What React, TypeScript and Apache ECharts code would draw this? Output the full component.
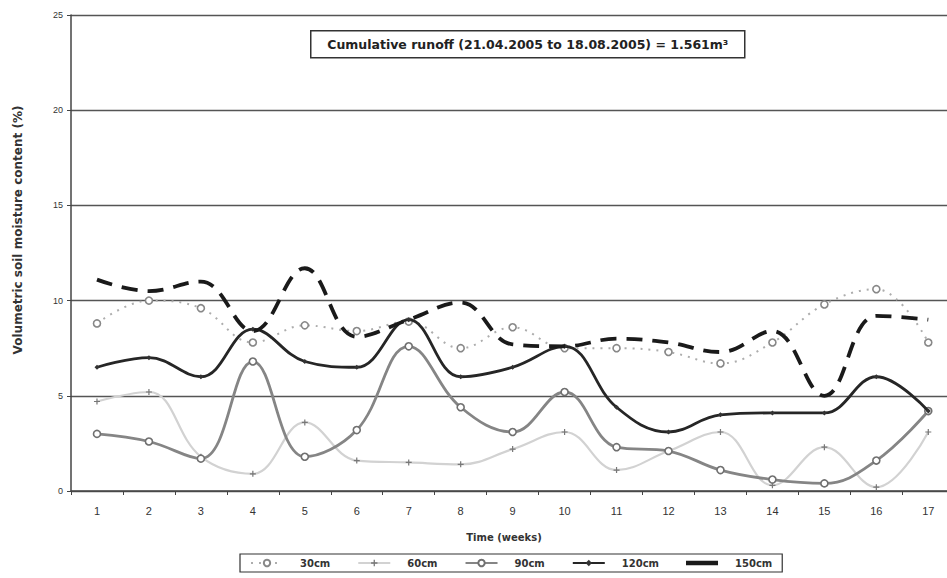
import React, { useEffect, useRef } from "react";
import * as echarts from "echarts";

const weeks = [1, 2, 3, 4, 5, 6, 7, 8, 9, 10, 11, 12, 13, 14, 15, 16, 17];
const weekTicks = [0.5, 1.5, 2.5, 3.5, 4.5, 5.5, 6.5, 7.5, 8.5, 9.5, 10.5, 11.5, 12.5, 13.5, 14.5, 15.5, 16.5];
const d30 = [8.8, 10.0, 9.6, 7.8, 8.7, 8.4, 8.9, 7.5, 8.6, 7.5, 7.5, 7.3, 6.7, 7.8, 9.8, 10.6, 7.8];
const d60 = [4.7, 5.2, 1.8, 0.9, 3.6, 1.6, 1.5, 1.4, 2.2, 3.1, 1.1, 2.1, 3.1, 0.3, 2.3, 0.2, 3.1];
const d90 = [3.0, 2.6, 1.7, 6.8, 1.8, 3.2, 7.6, 4.4, 3.1, 5.2, 2.3, 2.1, 1.1, 0.6, 0.4, 1.6, 4.2];
const d120 = [6.5, 7.0, 6.0, 8.5, 6.8, 6.5, 9.0, 6.0, 6.5, 7.6, 4.4, 3.1, 4.0, 4.1, 4.1, 6.0, 4.2];
const d150 = [11.1, 10.5, 11.0, 8.4, 11.7, 8.1, 9.0, 9.9, 7.7, 7.6, 8.0, 7.8, 7.3, 8.4, 5.0, 9.2, 9.0];
const seriesNames = ["30cm", "60cm", "90cm", "120cm", "150cm"];
const annotation = "Cumulative runoff (21.04.2005 to 18.08.2005) = 1.561m³";
const yTitle = "Volumetric soil moisture content (%)";
const xTitle = "Time (weeks)";

const FONT = "'Liberation Sans', Arial, sans-serif";
const WIDE = "'DejaVu Sans', Verdana, sans-serif";
const PLUS = "path://M4,0h2v10h-2z M0,4h10v2h-10z";
const BAR = "path://M0,0h30v4h-30z";

const pairs = (vals: number[]) => vals.map((v, i) => [weeks[i], v]);

export default function App() {
  const ref = useRef<HTMLDivElement>(null);
  useEffect(() => {
    if (!ref.current) return;
    const chart = echarts.init(ref.current, null, { renderer: "svg" });
    chart.setOption({
      animation: false,
      backgroundColor: "#ffffff",
      textStyle: { fontFamily: FONT },
      grid: { left: 71, top: 15, right: 0, bottom: 87, containLabel: false },
      xAxis: {
        type: "value",
        min: 0.5,
        max: 17.36,
        axisLine: { onZero: false, lineStyle: { color: "#444", width: 1.5 } },
        axisTick: { show: true, length: 4, lineStyle: { color: "#444" }, customValues: weekTicks },
        axisLabel: { fontSize: 11, color: "#333", margin: 14, fontFamily: FONT, customValues: weeks },
        splitLine: { show: false },
      },
      yAxis: {
        type: "value",
        min: 0,
        max: 25,
        interval: 5,
        axisLine: { show: true, lineStyle: { color: "#444", width: 1.5 } },
        axisTick: { show: true, length: 4, lineStyle: { color: "#444" } },
        axisLabel: { fontSize: 9, color: "#333", margin: 8, fontFamily: FONT },
        splitLine: { show: true, lineStyle: { color: "#555", width: 1.3 } },
      },
      legend: {
        bottom: 6,
        left: 240,
        data: seriesNames.map((n) => (n === "150cm" ? { name: n, icon: BAR } : { name: n })),
        itemWidth: 32,
        itemHeight: 8,
        itemGap: 27,
        padding: [4, 10, 4, 10],
        borderColor: "#333",
        borderWidth: 1.2,
        textStyle: { fontSize: 10, fontWeight: "bold", color: "#333", fontFamily: WIDE, padding: [0, 0, 0, 12] },
      },
      graphic: [
        {
          type: "text",
          x: 18,
          y: 230,
          rotation: Math.PI / 2,
          style: {
            text: yTitle,
            fill: "#333",
            fontSize: 12,
            fontWeight: "bold",
            fontFamily: WIDE,
            align: "center",
            verticalAlign: "middle",
          },
        },
        {
          type: "text",
          x: 504,
          y: 537,
          style: {
            text: xTitle,
            fill: "#333",
            fontSize: 10,
            fontWeight: "bold",
            fontFamily: WIDE,
            align: "center",
            verticalAlign: "middle",
          },
        },
        {
          type: "group",
          left: 310,
          top: 30,
          children: [
            {
              type: "rect",
              shape: { x: 0, y: 0, width: 434, height: 27 },
              style: { fill: "#fff", stroke: "#333", lineWidth: 1.5 },
            },
            {
              type: "text",
              x: 217,
              y: 13.5,
              style: {
                text: annotation,
                fill: "#222",
                fontSize: 12.5,
                fontWeight: "bold",
                fontFamily: WIDE,
                align: "center",
                verticalAlign: "middle",
              },
            },
          ],
        },
      ],
      series: [
        {
          name: "30cm",
          type: "line",
          data: pairs(d30),
          smooth: 0.4,
          symbol: "circle",
          symbolSize: 7,
          lineStyle: { color: "#adadad", width: 2, type: [2, 6] },
          itemStyle: { color: "#fff", borderColor: "#888", borderWidth: 1.6 },
          z: 2,
        },
        {
          name: "60cm",
          type: "line",
          data: pairs(d60),
          smooth: 0.4,
          symbol: PLUS,
          symbolSize: 6,
          lineStyle: { color: "#d2d2d2", width: 2.2 },
          itemStyle: { color: "#777" },
          z: 2,
        },
        {
          name: "90cm",
          type: "line",
          data: pairs(d90),
          smooth: 0.4,
          symbol: "circle",
          symbolSize: 7,
          lineStyle: { color: "#858585", width: 2.8 },
          itemStyle: { color: "#fff", borderColor: "#707070", borderWidth: 1.6 },
          z: 3,
        },
        {
          name: "120cm",
          type: "line",
          data: pairs(d120),
          smooth: 0.4,
          symbol: "diamond",
          symbolSize: 5,
          lineStyle: { color: "#262626", width: 2.8 },
          itemStyle: { color: "#333" },
          z: 4,
        },
        {
          name: "150cm",
          type: "line",
          data: pairs(d150),
          smooth: 0.4,
          symbol: "none",
          lineStyle: { color: "#1a1a1a", width: 3.8, type: [16, 10] },
          itemStyle: { color: "#1a1a1a" },
          z: 5,
        },
      ],
    });
    return () => chart.dispose();
  }, []);
  return <div ref={ref} style={{ width: 947, height: 578, position: "absolute", left: 0, top: 0 }} />;
}
